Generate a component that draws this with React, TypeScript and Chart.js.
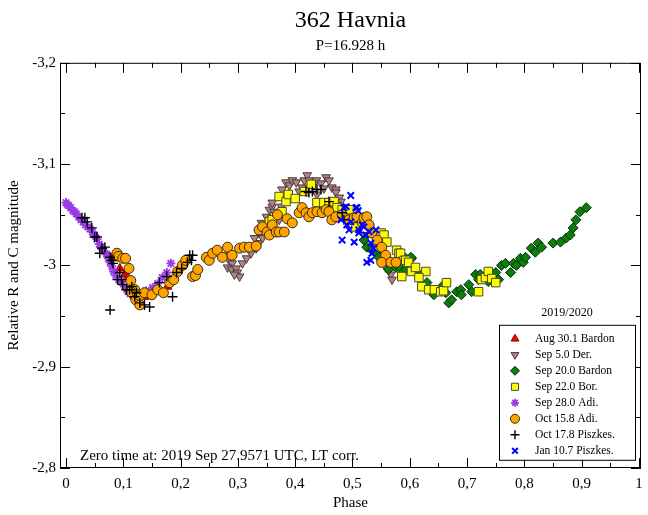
import React, { useEffect, useRef } from 'react';
import { Chart, registerables } from 'chart.js';

Chart.register(...registerables);

const xTickValues = [0, 0.1, 0.2, 0.3, 0.4, 0.5, 0.6, 0.7, 0.8, 0.9, 1];
const yTickValues = [-3.2, -3.1, -3, -2.9, -2.8];

const aug30Phase = [0.080, 0.094, 0.103, 0.108, 0.117, 0.123, 0.137, 0.163, 0.177];
const aug30Mag = [-3.007, -2.997, -2.991, -2.988, -2.978, -2.973, -2.969, -2.976, -2.979];

const sep5Phase = [0.280, 0.285, 0.290, 0.282, 0.289, 0.297, 0.299, 0.303, 0.294, 0.308, 0.315, 0.323, 0.332, 0.337, 0.329, 0.337, 0.350, 0.343,
  0.341, 0.350, 0.355, 0.360, 0.363, 0.360, 0.372, 0.376, 0.381, 0.377, 0.384, 0.390, 0.395, 0.402, 0.412, 0.416, 0.421, 0.424, 0.430, 0.437,
  0.445, 0.454, 0.459, 0.464, 0.471, 0.471, 0.477, 0.480, 0.473, 0.407, 0.438, 0.450, 0.520, 0.537, 0.558, 0.567, 0.569];
const sep5Mag = [-3.010, -3.005, -3.002, -2.998, -2.996, -2.997, -2.993, -2.989, -2.991, -3.002, -3.007, -3.012, -3.017, -3.022, -3.027, -3.032, -3.033, -3.027,
  -3.042, -3.048, -3.055, -3.058, -3.053, -3.062, -3.045, -3.058, -3.068, -3.075, -3.082, -3.079, -3.084, -3.082, -3.077, -3.084, -3.089, -3.084, -3.079, -3.084,
  -3.081, -3.087, -3.084, -3.077, -3.075, -3.072, -3.067, -3.063, -3.060, -3.073, -3.070, -3.076, -3.030, -3.015, -2.998, -2.991, -2.986];

const sep20Phase = [0.520, 0.525, 0.534, 0.541, 0.546, 0.560, 0.563, 0.576, 0.584, 0.593, 0.603, 0.612, 0.593, 0.602, 0.630, 0.642, 0.656, 0.663,
  0.668, 0.673, 0.682, 0.689, 0.690, 0.703, 0.708, 0.715, 0.723, 0.720, 0.732, 0.737, 0.750, 0.755, 0.760, 0.767, 0.776, 0.781, 0.786, 0.793,
  0.798, 0.802, 0.812, 0.819, 0.824, 0.830, 0.850, 0.863, 0.873, 0.880, 0.885, 0.890, 0.897, 0.908];
const sep20Mag = [-3.025, -3.018, -3.015, -3.012, -3.008, -3.005, -2.996, -2.998, -2.997, -2.996, -3.007, -2.993, -3.007, -3.008, -2.983, -2.971, -2.979, -2.973,
  -2.963, -2.966, -2.974, -2.976, -2.971, -2.981, -2.974, -2.991, -2.991, -2.986, -2.988, -2.984, -2.993, -2.986, -3.000, -3.002, -2.993, -3.002, -3.000, -3.007,
  -3.003, -3.008, -3.017, -3.013, -3.022, -3.018, -3.022, -3.023, -3.027, -3.030, -3.037, -3.045, -3.053, -3.057];

const sep22Phase = [0.355, 0.360, 0.377, 0.372, 0.384, 0.388, 0.400, 0.416, 0.428, 0.438, 0.450, 0.459, 0.468, 0.473, 0.482, 0.490, 0.494, 0.506,
  0.550, 0.555, 0.560, 0.543, 0.577, 0.581, 0.584, 0.590, 0.593, 0.598, 0.603, 0.610, 0.628, 0.586, 0.616, 0.621, 0.633, 0.643, 0.654, 0.659,
  0.664, 0.720, 0.725, 0.732, 0.737, 0.743, 0.750];
const sep22Mag = [-3.043, -3.045, -3.053, -3.068, -3.063, -3.070, -3.066, -3.073, -3.080, -3.062, -3.062, -3.062, -3.063, -3.057, -3.055, -3.048, -3.055, -3.038,
  -3.032, -3.030, -3.023, -3.018, -3.015, -3.012, -3.012, -3.005, -3.005, -3.003, -2.994, -2.998, -2.994, -2.989, -2.988, -2.979, -2.976, -2.976, -2.974, -2.975,
  -2.983, -2.974, -2.986, -2.988, -2.994, -2.987, -2.983];

const sep28Phase = [0.000, 0.002, 0.005, 0.008, 0.012, 0.015, 0.018, 0.022, 0.026, 0.030, 0.034, 0.038, 0.042, 0.046, 0.050, 0.054, 0.058, 0.062,
  0.066, 0.071, 0.074, 0.077, 0.080, 0.083, 0.087, 0.092, 0.097, 0.102, 0.108, 0.112, 0.117, 0.123, 0.130, 0.140, 0.151, 0.160, 0.168, 0.176, 0.183];
const sep28Mag = [-3.062, -3.060, -3.059, -3.057, -3.054, -3.053, -3.051, -3.048, -3.045, -3.043, -3.040, -3.038, -3.036, -3.033, -3.030, -3.026, -3.021, -3.018,
  -3.014, -3.011, -3.007, -3.003, -2.999, -2.994, -2.990, -2.986, -2.984, -2.979, -2.974, -2.972, -2.970, -2.968, -2.972, -2.975, -2.978, -2.982, -2.988, -2.993, -3.002];

const oct15Phase = [0.089, 0.092, 0.099, 0.104, 0.110, 0.113, 0.120, 0.113, 0.125, 0.122, 0.129, 0.137, 0.129, 0.150, 0.160, 0.170, 0.181, 0.188,
  0.195, 0.203, 0.209, 0.221, 0.226, 0.230, 0.245, 0.250, 0.256, 0.264, 0.273, 0.282, 0.290, 0.303, 0.311, 0.320, 0.332, 0.337, 0.343, 0.351,
  0.355, 0.360, 0.367, 0.372, 0.381, 0.369, 0.386, 0.395, 0.407, 0.412, 0.419, 0.424, 0.430, 0.438, 0.447, 0.454, 0.459, 0.464, 0.471, 0.482,
  0.494, 0.503, 0.508, 0.517, 0.520, 0.525, 0.529, 0.534, 0.543, 0.551, 0.558, 0.551, 0.567, 0.576];
const oct15Mag = [-3.012, -3.009, -3.007, -3.007, -2.997, -2.985, -2.976, -2.974, -2.971, -2.966, -2.970, -2.973, -2.961, -2.971, -2.976, -2.973, -2.983, -2.986,
  -2.994, -3.000, -3.005, -2.989, -2.990, -2.996, -3.008, -3.005, -3.012, -3.015, -3.008, -3.018, -3.010, -3.017, -3.018, -3.018, -3.019, -3.035, -3.038, -3.033,
  -3.030, -3.040, -3.033, -3.033, -3.033, -3.050, -3.046, -3.042, -3.052, -3.057, -3.052, -3.048, -3.052, -3.053, -3.052, -3.055, -3.053, -3.045, -3.048, -3.050,
  -3.045, -3.047, -3.048, -3.042, -3.047, -3.048, -3.040, -3.032, -3.025, -3.018, -3.010, -3.003, -3.003, -3.003];

const oct17Phase = [0.028, 0.033, 0.037, 0.045, 0.050, 0.054, 0.063, 0.068, 0.059, 0.077, 0.080, 0.082, 0.094, 0.090, 0.097, 0.099, 0.106, 0.115,
  0.111, 0.120, 0.123, 0.129, 0.137, 0.146, 0.077, 0.163, 0.176, 0.186, 0.193, 0.202, 0.212, 0.219, 0.221, 0.216,
  0.419, 0.424, 0.430, 0.438, 0.445, 0.459, 0.482, 0.485];
const oct17Mag = [-3.047, -3.047, -3.043, -3.037, -3.028, -3.028, -3.017, -3.018, -3.012, -3.008, -3.005, -3.002, -2.993, -2.986, -2.986, -2.981, -2.976, -2.979,
  -2.976, -2.969, -2.973, -2.963, -2.961, -2.959, -2.956, -2.983, -2.989, -2.969, -2.993, -2.997, -3.003, -3.005, -3.010, -3.010,
  -3.073, -3.072, -3.073, -3.075, -3.075, -3.063, -3.052, -3.045];

const jan10Phase = [0.497, 0.485, 0.508, 0.510, 0.480, 0.482, 0.494, 0.503, 0.511, 0.517, 0.523, 0.529, 0.532, 0.537, 0.541, 0.534, 0.525, 0.532,
  0.520, 0.497, 0.490, 0.511, 0.489, 0.506];
const jan10Mag = [-3.069, -3.057, -3.057, -3.054, -3.045, -3.025, -3.035, -3.023, -3.032, -3.040, -3.030, -3.033, -3.022, -3.017, -3.035, -3.012, -3.003, -3.005,
  -3.038, -3.043, -3.040, -3.035, -3.058, -3.057];

const toPoints = (xs: number[], ys: number[]) => xs.map((x, i) => ({ x, y: ys[i] }));

const SERIF = "'Liberation Serif', 'DejaVu Serif', serif";

type SeriesStyle = {
  label: string;
  pointStyle: string;
  rotation?: number;
  radius: number;
  fill: string;
  border: string;
  borderWidth: number;
  order: number;
  legendR: number;
};

const seriesStyles: SeriesStyle[] = [
  { label: 'Aug 30.1 Bardon', pointStyle: 'triangle', radius: 5, fill: '#ff0000', border: '#7a0000', borderWidth: 1, order: 8, legendR: 4.5 },
  { label: 'Sep 5.0 Der.', pointStyle: 'triangle', rotation: 180, radius: 5, fill: '#ae8484', border: '#4a3a3a', borderWidth: 1, order: 7, legendR: 4.5 },
  { label: 'Sep 20.0 Bardon', pointStyle: 'rectRot', radius: 5, fill: '#0a800a', border: '#0a2a0a', borderWidth: 1, order: 6, legendR: 4.5 },
  { label: 'Sep 22.0 Bor.', pointStyle: 'rect', radius: 6, fill: '#ffff00', border: '#4a4a30', borderWidth: 1, order: 5, legendR: 5 },
  { label: 'Sep 28.0 Adi.', pointStyle: 'star', radius: 4.5, fill: '#9a3be6', border: '#9a3be6', borderWidth: 1.8, order: 4, legendR: 4 },
  { label: 'Oct 15.8 Adi.', pointStyle: 'circle', radius: 5, fill: '#ffa500', border: '#3a2a10', borderWidth: 1, order: 3, legendR: 4.5 },
  { label: 'Oct 17.8 Piszkes.', pointStyle: 'cross', radius: 5, fill: '#000000', border: '#000000', borderWidth: 1.4, order: 2, legendR: 4.5 },
  { label: 'Jan 10.7 Piszkes.', pointStyle: 'crossRot', radius: 4.5, fill: '#0000ff', border: '#0000ff', borderWidth: 2, order: 1, legendR: 4 },
];

const seriesData = [
  toPoints(aug30Phase, aug30Mag),
  toPoints(sep5Phase, sep5Mag),
  toPoints(sep20Phase, sep20Mag),
  toPoints(sep22Phase, sep22Mag),
  toPoints(sep28Phase, sep28Mag),
  toPoints(oct15Phase, oct15Mag),
  toPoints(oct17Phase, oct17Mag),
  toPoints(jan10Phase, jan10Mag),
];

const fmt = (v: number) => {
  const r = Math.round(v * 10) / 10;
  if (r === 0) return '0';
  return String(r).replace('.', ',');
};

function drawMarker(ctx: CanvasRenderingContext2D, s: SeriesStyle, x: number, y: number) {
  const r = s.legendR;
  ctx.save();
  ctx.fillStyle = s.fill;
  ctx.strokeStyle = s.border;
  ctx.lineWidth = s.borderWidth;
  ctx.beginPath();
  let fill = true;
  if (s.pointStyle === 'triangle') {
    const dir = s.rotation ? -1 : 1;
    ctx.moveTo(x, y - dir * r);
    ctx.lineTo(x + r * 0.866, y + dir * r * 0.5);
    ctx.lineTo(x - r * 0.866, y + dir * r * 0.5);
    ctx.closePath();
  } else if (s.pointStyle === 'rectRot') {
    ctx.moveTo(x, y - r);
    ctx.lineTo(x + r, y);
    ctx.lineTo(x, y + r);
    ctx.lineTo(x - r, y);
    ctx.closePath();
  } else if (s.pointStyle === 'rect') {
    const h = r * Math.SQRT1_2;
    ctx.rect(x - h, y - h, 2 * h, 2 * h);
  } else if (s.pointStyle === 'circle') {
    ctx.arc(x, y, r, 0, Math.PI * 2);
  } else if (s.pointStyle === 'cross') {
    fill = false;
    ctx.moveTo(x - r, y); ctx.lineTo(x + r, y);
    ctx.moveTo(x, y - r); ctx.lineTo(x, y + r);
  } else if (s.pointStyle === 'crossRot') {
    fill = false;
    const d = r * Math.SQRT1_2;
    ctx.moveTo(x - d, y - d); ctx.lineTo(x + d, y + d);
    ctx.moveTo(x + d, y - d); ctx.lineTo(x - d, y + d);
  } else if (s.pointStyle === 'star') {
    fill = false;
    const d = r * Math.SQRT1_2;
    ctx.moveTo(x - r, y); ctx.lineTo(x + r, y);
    ctx.moveTo(x, y - r); ctx.lineTo(x, y + r);
    ctx.moveTo(x - d, y - d); ctx.lineTo(x + d, y + d);
    ctx.moveTo(x + d, y - d); ctx.lineTo(x - d, y + d);
  }
  if (fill) ctx.fill();
  ctx.stroke();
  ctx.restore();
}

const framePlugin = {
  id: 'frameTicks',
  afterDatasetsDraw(chart: any) {
    const { ctx, chartArea: a, scales } = chart;
    const xs = scales.x;
    const ys = scales.y;
    ctx.save();
    ctx.strokeStyle = '#000';
    ctx.lineWidth = 1;
    ctx.strokeRect(a.left + 0.5, a.top + 0.5, a.right - a.left - 1, a.bottom - a.top - 1);
    ctx.beginPath();
    for (let i = 0; i <= 20; i++) {
      const v = i * 0.05;
      const px = Math.round(xs.getPixelForValue(v)) + 0.5;
      const len = i % 2 === 0 ? 10 : 5;
      ctx.moveTo(px, a.bottom);
      ctx.lineTo(px, a.bottom - len);
      ctx.moveTo(px, a.top);
      ctx.lineTo(px, a.top + len);
    }
    for (let i = 0; i <= 8; i++) {
      const v = -3.2 + i * 0.05;
      const py = Math.round(ys.getPixelForValue(v)) + 0.5;
      const len = i % 2 === 0 ? 10 : 5;
      ctx.moveTo(a.left, py);
      ctx.lineTo(a.left + len, py);
      ctx.moveTo(a.right, py);
      ctx.lineTo(a.right - len, py);
    }
    ctx.stroke();
    ctx.restore();
  },
  afterDraw(chart: any) {
    const { ctx, chartArea: a } = chart;
    ctx.save();
    ctx.fillStyle = '#000';
    ctx.font = `15px ${SERIF}`;
    ctx.textAlign = 'left';
    ctx.textBaseline = 'alphabetic';
    ctx.fillText('Zero time at: 2019 Sep 27.9571 UTC, LT corr.', a.left + 20, a.bottom - 8);

    const boxL = a.right - 142;
    const boxT = a.top + 262;
    const boxW = 136;
    const boxH = 135;
    ctx.font = `12px ${SERIF}`;
    ctx.textAlign = 'center';
    ctx.textBaseline = 'middle';
    ctx.fillText('2019/2020', boxL + boxW / 2, boxT - 12);
    ctx.fillStyle = '#fff';
    ctx.fillRect(boxL, boxT, boxW, boxH);
    ctx.strokeStyle = '#000';
    ctx.lineWidth = 1;
    ctx.strokeRect(boxL + 0.5, boxT + 0.5, boxW, boxH);
    ctx.font = `11.5px ${SERIF}`;
    ctx.textAlign = 'left';
    seriesStyles.forEach((s, i) => {
      const y = boxT + 14 + i * 16;
      drawMarker(ctx, s, boxL + 16, y);
      ctx.fillStyle = '#000';
      ctx.fillText(s.label, boxL + 36, y);
    });
    ctx.restore();
  },
};

export default function App() {
  const ref = useRef<HTMLCanvasElement | null>(null);
  useEffect(() => {
    document.body.style.margin = '0';
    const canvas = ref.current;
    if (!canvas) return;
    const chart = new Chart(canvas, {
      type: 'scatter',
      data: {
        datasets: seriesStyles.map((s, i) => ({
          label: s.label,
          data: seriesData[i],
          pointStyle: s.pointStyle as any,
          rotation: s.rotation || 0,
          pointRadius: s.radius,
          pointHoverRadius: s.radius,
          backgroundColor: s.fill,
          borderColor: s.border,
          borderWidth: s.borderWidth,
          order: s.order,
          showLine: false,
        })),
      },
      options: {
        responsive: false,
        animation: false,
        layout: { padding: { left: 0, right: 5, top: 0, bottom: 0 } },
        plugins: {
          legend: { display: false },
          tooltip: { enabled: false },
          title: {
            display: true,
            text: '362 Havnia',
            fullSize: false,
            color: '#000',
            font: { family: SERIF, size: 24, weight: 'normal' },
            padding: { top: 6, bottom: 0 },
          },
          subtitle: {
            display: true,
            text: 'P=16.928 h',
            fullSize: false,
            color: '#000',
            font: { family: SERIF, size: 15, weight: 'normal' },
            padding: { top: 2, bottom: 8 },
          },
        },
        scales: {
          x: {
            type: 'linear',
            min: -0.0104,
            max: 1.0035,
            grid: { display: false, drawTicks: false },
            border: { display: false },
            afterBuildTicks: (scale: any) => {
              scale.ticks = xTickValues.map((v) => ({ value: v }));
            },
            afterFit: (scale: any) => {
              scale.height = 47;
              scale.paddingLeft = 0;
              scale.paddingRight = 0;
            },
            ticks: {
              color: '#000',
              font: { family: SERIF, size: 15 },
              padding: 7,
              maxRotation: 0,
              autoSkip: false,
              callback: (v: any) => fmt(Number(v)),
            },
            title: {
              display: true,
              text: 'Phase',
              color: '#000',
              font: { family: SERIF, size: 15 },
              padding: { top: 0, bottom: 3 },
            },
          },
          y: {
            type: 'linear',
            reverse: true,
            min: -3.2,
            max: -2.8,
            grid: { display: false, drawTicks: false },
            border: { display: false },
            afterBuildTicks: (scale: any) => {
              scale.ticks = yTickValues.map((v) => ({ value: v }));
            },
            afterFit: (scale: any) => {
              scale.width = 60;
            },
            ticks: {
              color: '#000',
              font: { family: SERIF, size: 15 },
              padding: 4,
              autoSkip: false,
              callback: (v: any) => fmt(Number(v)),
            },
            title: {
              display: true,
              text: 'Relative R and C magnitude',
              color: '#000',
              font: { family: SERIF, size: 15 },
              padding: { top: 5, bottom: 0 },
            },
          },
        },
      },
      plugins: [framePlugin],
    });
    return () => chart.destroy();
  }, []);
  return (
    <canvas ref={ref} width={648} height={515} style={{ display: 'block', width: 648, height: 515 }} />
  );
}
